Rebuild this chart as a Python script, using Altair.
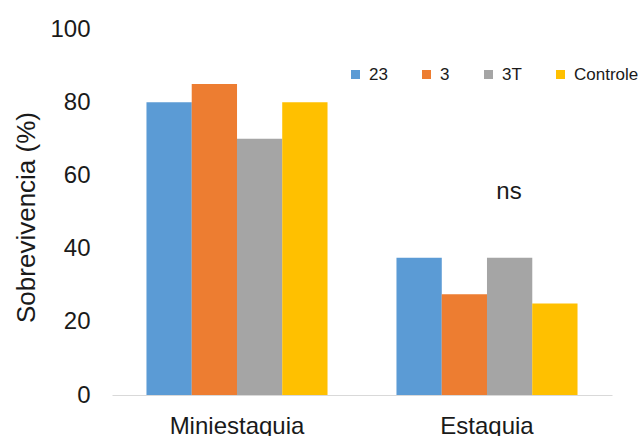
import altair as alt
import pandas as pd

# Survival (%) by propagation method and clone
methods = ["Miniestaquia", "Estaquia"]
clones = ["23", "3", "3T", "Controle"]
mini_values = [80, 85, 70, 80]
esta_values = [37.5, 27.5, 37.5, 25]
colors = ["#5B9BD5", "#ED7D31", "#A5A5A5", "#FFC000"]

# Significance note above the Estaquia group
note_method = ["Estaquia"]
note_text = ["ns"]
note_y = [55.5]

rows = []
for clone, v in zip(clones, mini_values):
    rows.append({"metodo": methods[0], "clone": clone, "valor": v})
for clone, v in zip(clones, esta_values):
    rows.append({"metodo": methods[1], "clone": clone, "valor": v})
df = pd.DataFrame(rows)
notes = pd.DataFrame({"metodo": note_method, "txt": note_text, "y": note_y})

FONT = "Liberation Sans"
TXT = "#1a1a1a"

x_scale = alt.Scale(domain=methods, paddingInner=0.276, paddingOuter=0.138)
y_scale = alt.Scale(domain=[0, 100], nice=False)

bars = alt.Chart(df).mark_bar(size=45.3).encode(
    x=alt.X("metodo:N", scale=x_scale, sort=methods,
            axis=alt.Axis(title=None, labelAngle=0, ticks=False, domain=True,
                          domainColor="#d9d9d9", domainWidth=1.2,
                          labelFontSize=24, labelFont=FONT, labelColor=TXT,
                          labelPadding=19, labelBaseline="top")),
    xOffset=alt.XOffset("clone:N", sort=clones,
                        scale=alt.Scale(paddingInner=0, paddingOuter=0)),
    y=alt.Y("valor:Q", scale=y_scale,
            axis=alt.Axis(title="Sobrevivencia (%)", values=[0, 20, 40, 60, 80, 100],
                          grid=False, ticks=False, domain=False,
                          labelFontSize=24, labelFont=FONT, labelColor=TXT,
                          labelPadding=22,
                          titleFontSize=26, titleFont=FONT, titleColor=TXT,
                          titleFontWeight="normal",
                          titleX=-73, titleY=188, titleAngle=270,
                          titleBaseline="bottom", titleAlign="center")),
    color=alt.Color("clone:N", sort=clones,
                    scale=alt.Scale(domain=clones, range=colors),
                    legend=alt.Legend(title=None, orient="none", direction="horizontal",
                                      legendX=235, legendY=37, padding=0,
                                      gridAlign="none",
                                      symbolType="square", symbolSize=81,
                                      symbolStrokeWidth=0, labelFontSize=17,
                                      labelFont=FONT, labelColor=TXT,
                                      labelOffset=5, columnPadding=30)),
)

ns = alt.Chart(notes).mark_text(font=FONT, fontSize=24, color=TXT, dx=22,
                                 baseline="middle").encode(
    x=alt.X("metodo:N", scale=x_scale, sort=methods),
    y=alt.Y("y:Q", scale=y_scale),
    text="txt:N",
)

chart = alt.layer(bars, ns).properties(
    width=500, height=366,
    background="white",
    autosize=alt.AutoSizeParams(type="none"),
    padding={"left": 112, "top": 29, "right": 26, "bottom": 41},
).configure_view(stroke=None)

chart.save("out.html", embed_options={"renderer": "svg", "actions": False})
